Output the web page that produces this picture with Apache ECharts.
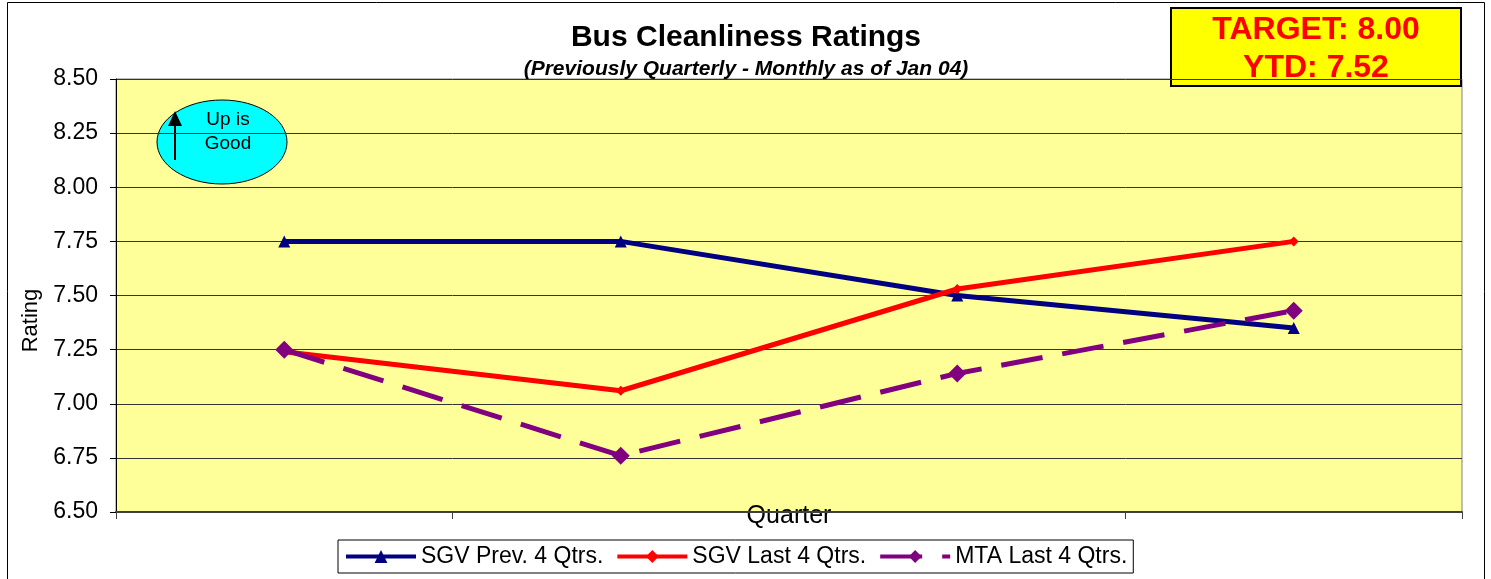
<!DOCTYPE html>
<html>
<head>
<meta charset="utf-8">
<title>Bus Cleanliness Ratings</title>
<script src="https://cdn.jsdelivr.net/npm/echarts@6.0.0/dist/echarts.min.js"></script>
<style>
  html, body { margin: 0; padding: 0; background: #fff; }
  #chart { width: 1491px; height: 579px; }
</style>
</head>
<body>
<div id="chart"></div>
<script>
  // data
  var quarters = ['Q1', 'Q2', 'Q3', 'Q4']
  var sgvPrev = [7.75, 7.75, 7.50, 7.35]
  var sgvLast = [7.24, 7.06, 7.53, 7.75]
  var mtaLast = [7.25, 6.76, 7.14, 7.43]
  var seriesNames = ['SGV Prev. 4 Qtrs.', 'SGV Last 4 Qtrs.', 'MTA Last 4 Qtrs.']
  var targetText = 'TARGET: 8.00'
  var ytdText = 'YTD: 7.52'

  var font = '"Liberation Sans", Arial, sans-serif'
  var chart = echarts.init(document.getElementById('chart'))

  chart.setOption({
    backgroundColor: '#fff',
    textStyle: { fontFamily: font },
    title: {
      text: 'Bus Cleanliness Ratings',
      subtext: '(Previously Quarterly - Monthly as of Jan 04)',
      left: 741,
      top: 18,
      textAlign: 'center',
      itemGap: 6,
      textStyle: { fontSize: 30, fontWeight: 'bold', color: '#000', fontFamily: font },
      subtextStyle: { fontSize: 21, fontWeight: 'bold', fontStyle: 'italic', color: '#000', fontFamily: font }
    },
    legend: {
      left: 338,
      top: 540,
      padding: [5, 6],
      itemGap: 12,
      itemWidth: 70,
      itemHeight: 16,
      borderColor: '#000',
      borderWidth: 1,
      backgroundColor: '#fff',
      lineStyle: { width: 4 },
      textStyle: { fontSize: 23, color: '#000', fontFamily: font },
      data: seriesNames
    },
    grid: {
      left: 116,
      right: 29,
      top: 79,
      bottom: 67,
      show: true,
      backgroundColor: '#FFFF99',
      borderColor: '#808080',
      borderWidth: 1
    },
    xAxis: {
      type: 'category',
      data: quarters,
      boundaryGap: true,
      name: 'Quarter',
      nameLocation: 'middle',
      nameGap: 4,
      nameTextStyle: { fontSize: 25, color: '#000', verticalAlign: 'middle', fontFamily: font },
      axisLine: { lineStyle: { color: '#404040', width: 2 } },
      axisTick: { show: true, length: 7, lineStyle: { color: '#404040' } },
      axisLabel: { show: false },
      splitLine: { show: false }
    },
    yAxis: {
      type: 'value',
      min: 6.5,
      max: 8.5,
      interval: 0.25,
      name: 'Rating',
      nameLocation: 'middle',
      nameGap: 68,
      nameRotate: 90,
      nameTextStyle: { fontSize: 22, color: '#000', fontFamily: font, padding: [0, 50, 0, 0] },
      axisLine: { show: true, lineStyle: { color: '#000', width: 1 } },
      axisTick: { show: true, length: 6, lineStyle: { color: '#000' } },
      axisLabel: {
        fontSize: 23,
        color: '#000',
        margin: 18,
        formatter: function (v) { return v.toFixed(2) }
      },
      splitLine: { show: true, lineStyle: { color: '#333', width: 1 } }
    },
    series: [{
      name: seriesNames[0],
      type: 'line',
      data: sgvPrev,
      symbol: 'triangle',
      symbolSize: 12,
      itemStyle: { color: '#000080' },
      lineStyle: { color: '#000080', width: 5 }
    }, {
      name: seriesNames[1],
      type: 'line',
      data: sgvLast,
      symbol: 'diamond',
      symbolSize: 10,
      itemStyle: { color: '#FF0000' },
      lineStyle: { color: '#FF0000', width: 5 }
    }, {
      name: seriesNames[2],
      type: 'line',
      data: mtaLast,
      symbol: 'diamond',
      symbolSize: 18,
      itemStyle: { color: '#800080' },
      lineStyle: { color: '#800080', width: 5, type: [42, 20] }
    }],
    graphic: [{
      // outer chart border
      type: 'rect',
      silent: true,
      shape: { x: 7.5, y: 2.5, width: 1477, height: 600 },
      style: { fill: null, stroke: '#000', lineWidth: 1 }
    }, {
      type: 'group',
      silent: true,
      children: [{
        type: 'rect',
        shape: { x: 1171, y: 8, width: 290, height: 78 },
        style: { fill: '#FFFF00', stroke: '#000', lineWidth: 2 }
      }, {
        type: 'text',
        x: 1316, y: 30,
        style: { text: targetText, fill: '#FF0000', font: 'bold 32px ' + font, align: 'center', verticalAlign: 'middle' }
      }, {
        type: 'text',
        x: 1316, y: 68,
        style: { text: ytdText, fill: '#FF0000', font: 'bold 32px ' + font, align: 'center', verticalAlign: 'middle' }
      }]
    }, {
      // "Up is Good" bubble
      type: 'group',
      silent: true,
      children: [{
        type: 'ellipse',
        shape: { cx: 222, cy: 142, rx: 65, ry: 42 },
        style: { fill: '#00FFFF', stroke: '#000', lineWidth: 1 }
      }, {
        type: 'line',
        shape: { x1: 175, y1: 160, x2: 175, y2: 122 },
        style: { stroke: '#000', lineWidth: 2 }
      }, {
        type: 'polygon',
        shape: { points: [[175, 111], [168, 126], [182, 126]] },
        style: { fill: '#000' }
      }, {
        type: 'text',
        x: 228, y: 132,
        style: { text: 'Up is\nGood', fill: '#000', font: '19px ' + font, align: 'center', verticalAlign: 'middle', lineHeight: 24 }
      }]
    }]
  })
</script>
</body>
</html>
